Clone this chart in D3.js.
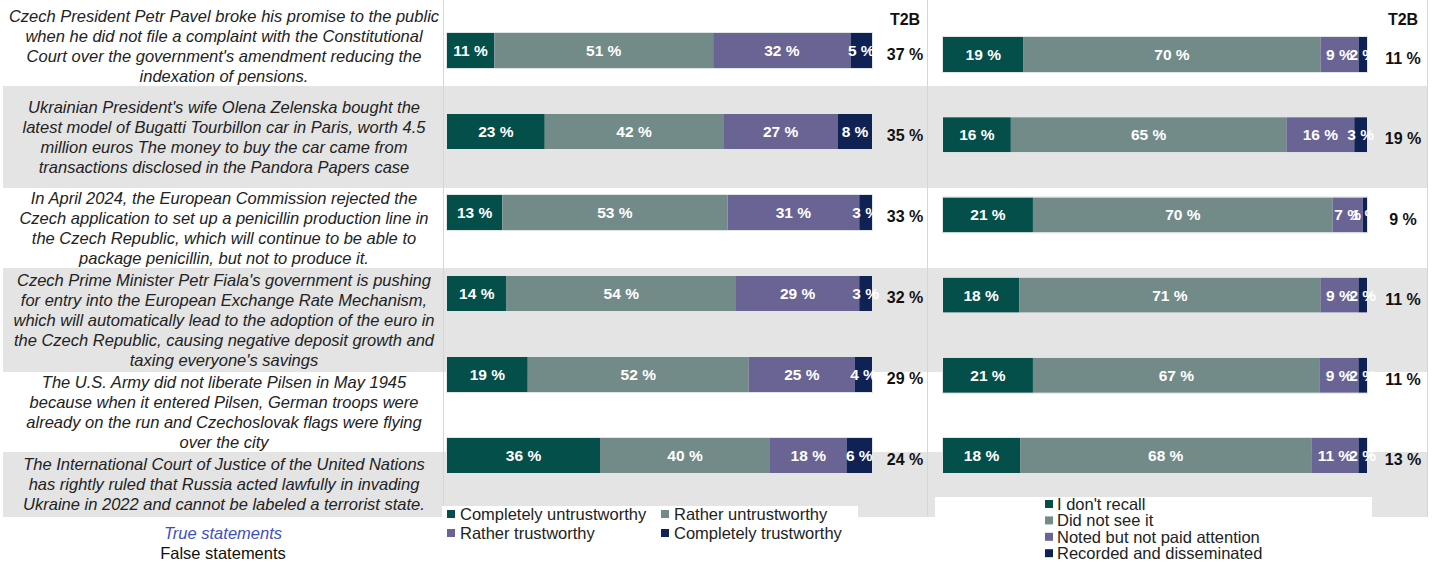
<!DOCTYPE html>
<html>
<head>
<meta charset="utf-8">
<script src="https://cdn.jsdelivr.net/npm/d3@7"></script>
<style>
  html, body { margin: 0; padding: 0; background: #fff; }
  svg { display: block; font-family: "Liberation Sans", Arial, sans-serif; }
</style>
</head>
<body>
<svg id="chart" width="1445" height="562"></svg>
<script>
// Statements (wrapped as shown in the table)
const statements = [
  ["Czech President Petr Pavel broke his promise to the public", "when he did not file a complaint with the Constitutional", "Court over the government's amendment reducing the", "indexation of pensions."],
  ["Ukrainian President's wife Olena Zelenska bought the", "latest model of Bugatti Tourbillon car in Paris, worth 4.5", "million euros The money to buy the car came from", "transactions disclosed in the Pandora Papers case"],
  ["In April 2024, the European Commission rejected the", "Czech application to set up a penicillin production line in", "the Czech Republic, which will continue to be able to", "package penicillin, but not to produce it."],
  ["Czech Prime Minister Petr Fiala's government is pushing", "for entry into the European Exchange Rate Mechanism,", "which will automatically lead to the adoption of the euro in", "the Czech Republic, causing negative deposit growth and", "taxing everyone's savings"],
  ["The U.S. Army did not liberate Pilsen in May 1945", "because when it entered Pilsen, German troops were", "already on the run and Czechoslovak flags were flying", "over the city"],
  ["The International Court of Justice of the United Nations", "has rightly ruled that Russia acted lawfully in invading", "Ukraine in 2022 and cannot be labeled a terrorist state."]
];

// Trustworthiness of each statement (%)
const trustKeys = ["Completely untrustworthy", "Rather untrustworthy", "Rather trustworthy", "Completely trustworthy"];
const completelyUntrustworthy = [11, 23, 13, 14, 19, 36];
const ratherUntrustworthy     = [51, 42, 53, 54, 52, 40];
const ratherTrustworthy       = [32, 27, 31, 29, 25, 18];
const completelyTrustworthy   = [5, 8, 3, 3, 4, 6];
const trustT2B                = [37, 35, 33, 32, 29, 24];

// Exposure to each statement (%)
const seenKeys = ["I don't recall", "Did not see it", "Noted but not paid attention", "Recorded and disseminated"];
const dontRecall   = [19, 16, 21, 18, 21, 18];
const didNotSee    = [70, 65, 70, 71, 67, 68];
const notedOnly    = [9, 16, 7, 9, 9, 11];
const disseminated = [2, 3, 1, 2, 2, 2];
const seenT2B      = [11, 19, 9, 11, 11, 13];

const t2bHeader = "T2B";
const noteLabels = ["True statements", "False statements"];

const colors = ["#054f4a", "#728b88", "#6a6494", "#0f2253"];
const bandGray = "#e4e4e4";

const svg = d3.select("#chart");

// Row bands shared by all three panels
const bandEdges = [6, 86, 188, 268, 372, 452, 517];
const rows = d3.range(statements.length);

function drawBands(x0, x1) {
  svg.append("g").selectAll("rect").data(rows).join("rect")
    .attr("x", x0).attr("width", x1 - x0)
    .attr("y", i => i === 0 ? 0 : bandEdges[i])
    .attr("height", i => bandEdges[i + 1] - (i === 0 ? 0 : bandEdges[i]))
    .attr("fill", i => i % 2 ? bandGray : "#fff");
}

// Left panel: statement texts
drawBands(3, 443);
const textG = svg.append("g")
  .attr("font-size", 16.5).attr("font-style", "italic").attr("fill", "#222")
  .attr("text-anchor", "middle");
rows.forEach(i => {
  const lines = statements[i];
  const mid = (bandEdges[i] + bandEdges[i + 1]) / 2;
  const lh = 20;
  const top = mid - (lines.length - 1) * lh / 2;
  textG.append("text")
    .selectAll("tspan").data(lines).join("tspan")
    .attr("x", 224).attr("y", (d, k) => top + k * lh).attr("dy", "0.35em")
    .text(d => d);
});

// Notes under the statements
svg.append("text").attr("x", 223).attr("y", 533).attr("dy", "0.35em")
  .attr("text-anchor", "middle").attr("font-size", 16.5).attr("font-style", "italic")
  .attr("fill", "#3d4fc0").text(noteLabels[0]);
svg.append("text").attr("x", 223).attr("y", 553).attr("dy", "0.35em")
  .attr("text-anchor", "middle").attr("font-size", 16.5)
  .attr("fill", "#111").text(noteLabels[1]);

// One 100 % stacked bar panel
function drawPanel(opts) {
  const { series, keys, t2b, x0, x1, yTop, yBottom, bgX0, bgX1, t2bX } = opts;
  drawBands(bgX0, bgX1);

  const table = rows.map(i => {
    const o = { idx: i };
    keys.forEach((k, j) => o[k] = series[j][i]);
    return o;
  });
  const stacked = d3.stack().keys(keys).offset(d3.stackOffsetExpand)(table);

  const x = d3.scaleLinear().domain([0, 1]).range([x0, x1]);
  const y = d3.scalePoint().domain(rows).range([yTop, yBottom]);
  const barH = 35;

  const g = svg.append("g");
  const layer = g.selectAll("g.layer").data(stacked).join("g")
    .attr("class", "layer").attr("fill", (d, j) => colors[j]);
  layer.selectAll("rect").data(d => d).join("rect")
    .attr("x", d => x(d[0]))
    .attr("width", d => x(d[1]) - x(d[0]))
    .attr("y", d => y(d.data.idx) - barH / 2)
    .attr("height", barH);

  // thin light outline around each bar
  g.append("g").selectAll("rect").data(rows).join("rect")
    .attr("x", x0 - 0.5).attr("width", x1 - x0 + 1)
    .attr("y", i => y(i) - barH / 2 - 0.5).attr("height", barH + 1)
    .attr("fill", "none").attr("stroke", "#dfe6e6").attr("stroke-width", 1);

  const lab = g.append("g").attr("font-size", 15.5).attr("font-weight", "bold")
    .attr("fill", "#fff").attr("text-anchor", "middle");
  stacked.forEach((s, j) => {
    lab.selectAll(null).data(s).join("text")
      .attr("x", d => (x(d[0]) + x(d[1])) / 2)
      .attr("y", d => y(d.data.idx)).attr("dy", "0.36em")
      .text(d => `${d.data[keys[j]]} %`);
  });

  // T2B column
  const tg = g.append("g").attr("font-size", 16).attr("font-weight", "bold")
    .attr("fill", "#111").attr("text-anchor", "middle");
  tg.append("text").attr("x", t2bX).attr("y", 19).attr("dy", "0.35em").text(t2bHeader);
  tg.selectAll(null).data(rows).join("text")
    .attr("x", t2bX).attr("y", i => y(i) + 4).attr("dy", "0.35em")
    .text(i => `${t2b[i]} %`);
}

drawPanel({
  series: [completelyUntrustworthy, ratherUntrustworthy, ratherTrustworthy, completelyTrustworthy],
  keys: trustKeys, t2b: trustT2B,
  x0: 447, x1: 872, yTop: 50.5, yBottom: 455.5,
  bgX0: 443, bgX1: 927, t2bX: 905
});
drawPanel({
  series: [dontRecall, didNotSee, notedOnly, disseminated],
  keys: seenKeys, t2b: seenT2B,
  x0: 943, x1: 1367, yTop: 54.5, yBottom: 455.5,
  bgX0: 927, bgX1: 1427, t2bX: 1403
});

// Panel separators
svg.append("g").attr("stroke", "#d6d6d6").attr("stroke-width", 1)
  .selectAll("line").data([443.5, 927.5, 1427.5]).join("line")
  .attr("x1", d => d).attr("x2", d => d).attr("y1", 0).attr("y2", 517);

// Legends
const legTrust = svg.append("g").attr("font-size", 16.5).attr("fill", "#222");
legTrust.append("rect").attr("x", 442).attr("y", 506).attr("width", 416).attr("height", 56).attr("fill", "#fff");
trustKeys.forEach((k, j) => {
  const lx = j % 2 === 0 ? 447 : 661;
  const ly = j < 2 ? 514 : 533;
  legTrust.append("rect").attr("x", lx).attr("y", ly - 4).attr("width", 8).attr("height", 8).attr("fill", colors[j]);
  legTrust.append("text").attr("x", lx + 13).attr("y", ly).attr("dy", "0.35em").text(k);
});

const legSeen = svg.append("g").attr("font-size", 16.5).attr("fill", "#222");
legSeen.append("rect").attr("x", 935).attr("y", 497).attr("width", 437).attr("height", 65).attr("fill", "#fff");
seenKeys.forEach((k, j) => {
  const ly = 504 + j * 16.4;
  legSeen.append("rect").attr("x", 1045).attr("y", ly - 4).attr("width", 8).attr("height", 8).attr("fill", colors[j]);
  legSeen.append("text").attr("x", 1057).attr("y", ly).attr("dy", "0.35em").text(k);
});
</script>
</body>
</html>
